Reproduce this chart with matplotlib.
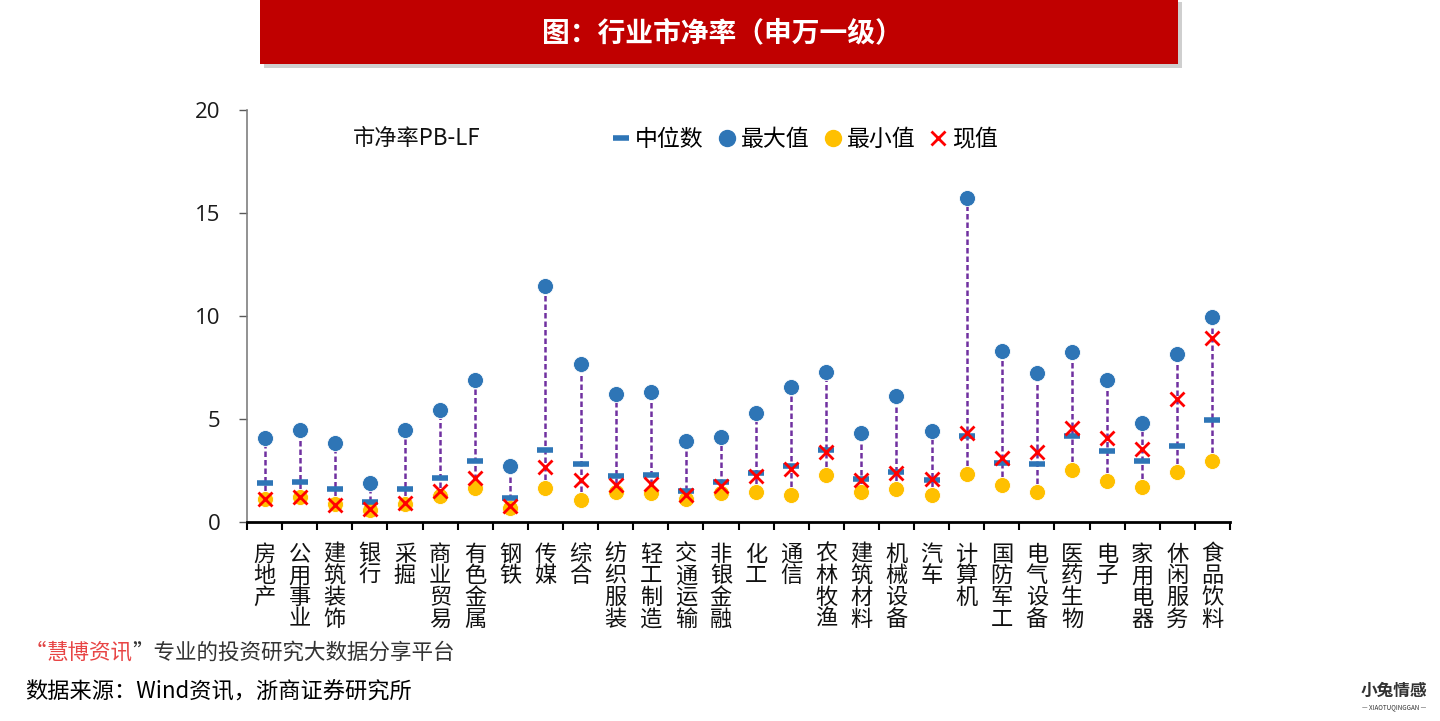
import matplotlib
matplotlib.use("Agg")
import matplotlib.pyplot as plt
from matplotlib.lines import Line2D
from matplotlib.patches import Rectangle
import numpy as np

plt.rcParams['font.family'] = ['Noto Sans CJK SC', 'DejaVu Sans']

categories = ["房地产", "公用事业", "建筑装饰", "银行", "采掘", "商业贸易", "有色金属",
              "钢铁", "传媒", "综合", "纺织服装", "轻工制造", "交通运输", "非银金融",
              "化工", "通信", "农林牧渔", "建筑材料", "机械设备", "汽车", "计算机",
              "国防军工", "电气设备", "医药生物", "电子", "家用电器", "休闲服务", "食品饮料"]
max_vals = [4.07, 4.45, 3.83, 1.91, 4.45, 5.44, 6.89, 2.73, 11.44, 7.69, 6.20, 6.30, 3.95, 4.11,
            5.27, 6.54, 7.28, 4.34, 6.13, 4.40, 15.71, 8.32, 7.22, 8.27, 6.89, 4.81, 8.16, 9.95]
median_vals = [1.88, 1.93, 1.59, 0.96, 1.59, 2.15, 2.96, 1.18, 3.48, 2.80, 2.22, 2.28, 1.52, 1.93,
               2.39, 2.73, 3.50, 2.10, 2.43, 2.05, 4.17, 2.85, 2.80, 4.17, 3.43, 2.96, 3.71, 4.93]
min_vals = [1.10, 1.23, 0.85, 0.60, 0.88, 1.25, 1.63, 0.68, 1.63, 1.07, 1.44, 1.39, 1.10, 1.39,
            1.46, 1.29, 2.28, 1.46, 1.59, 1.29, 2.33, 1.81, 1.46, 2.51, 1.99, 1.71, 2.44, 2.98]
current_vals = [1.12, 1.23, 0.84, 0.63, 0.91, 1.52, 2.15, 0.78, 2.67, 2.04, 1.80, 1.84, 1.31, 1.76,
                2.23, 2.56, 3.41, 2.04, 2.39, 2.09, 4.30, 3.09, 3.41, 4.58, 4.06, 3.53, 5.97, 8.92]
y_ticks = [0, 5, 10, 15, 20]
legend_labels = ["中位数", "最大值", "最小值", "现值"]

BLUE = "#2E75B6"
YELLOW = "#FFC000"
RED = "#FF0000"
PURPLE = "#7030A0"

fig = plt.figure(figsize=(14.4, 7.21), dpi=100)
ax = fig.add_axes([247 / 1440, 1 - 522 / 721, 983 / 1440, 412 / 721])

x = np.arange(len(categories))
ax.vlines(x, min_vals, max_vals, colors=PURPLE, linestyles=(0, (2.2, 1.2)), linewidth=1.8, zorder=1)
ax.plot(x, max_vals, 'o', color=BLUE, markersize=11.5, markeredgecolor='white', markeredgewidth=0.6, zorder=3)
ax.plot(x, min_vals, 'o', color=YELLOW, markersize=11.5, markeredgecolor='white', markeredgewidth=0.6, zorder=3)
ax.plot(x, median_vals, '_', color=BLUE, markersize=12, markeredgewidth=4, zorder=4)
ax.plot(x, current_vals, 'x', color=RED, markersize=10, markeredgewidth=2, zorder=5)

ax.set_xlim(-0.5, len(categories) - 0.5)
ax.set_ylim(0, 20)
ax.set_yticks(y_ticks)
ax.set_yticklabels([str(v) for v in y_ticks], fontsize=16, color='#1a1a1a', family=['Open Sans', 'DejaVu Sans'])
ax.tick_params(axis='y', length=6, width=1, color='#595959', pad=13)

ax.set_xticks(np.arange(len(categories) + 1) - 0.5)
ax.set_xticklabels([])
ax.tick_params(axis='x', length=6, width=1.5, color='black', direction='out')
for i, c in enumerate(categories):
    ax.text(i, -0.05, "\n".join(c), transform=ax.get_xaxis_transform(), ha='center', va='top',
            fontsize=16, linespacing=0.93, color='#111111')

for s in ['top', 'right']:
    ax.spines[s].set_visible(False)
ax.spines['left'].set_color('#7f7f7f')
ax.spines['left'].set_linewidth(1.2)
ax.spines['bottom'].set_color('black')
ax.spines['bottom'].set_linewidth(2)

# chart label and legend
ax.text(0.108, 0.93, "市净率PB-LF", transform=ax.transAxes, fontsize=16, ha='left', va='center', color='#111111')
handles = [
    Line2D([], [], marker='_', color=BLUE, linestyle='None', markersize=12, markeredgewidth=4),
    Line2D([], [], marker='o', color=BLUE, linestyle='None', markersize=11.5),
    Line2D([], [], marker='o', color=YELLOW, linestyle='None', markersize=11.5),
    Line2D([], [], marker='x', color=RED, linestyle='None', markersize=10, markeredgewidth=2),
]
leg = ax.legend(handles, legend_labels, ncol=4, frameon=False,
                loc='center left', bbox_to_anchor=(0.362, 0.928), fontsize=16.5,
                handlelength=0.8, handletextpad=0.2, columnspacing=0.62, borderaxespad=0)

# title banner
fig.patches.append(Rectangle((264 / 1440, 1 - 68 / 721), 918 / 1440, 66 / 721, transform=fig.transFigure,
                             facecolor='#b0b0b0', edgecolor='none', alpha=0.6, zorder=0))
fig.patches.append(Rectangle((260 / 1440, 1 - 64 / 721), 918 / 1440, 66 / 721, transform=fig.transFigure,
                             facecolor='#C00000', edgecolor='none', zorder=1))
fig.text(722 / 1440, 1 - 33 / 721, "图：行业市净率（申万一级）", ha='center', va='center',
         fontsize=20, fontweight='heavy', color='white')

# footer (pieces chained left to right)
renderer = fig.canvas.get_renderer()
pieces = [("“", '#E04040'), ("慧博资讯", '#E84545'), ("”专业的投资研究大数据分享平台", '#333333')]
xpos = 25
for txt, col in pieces:
    t = fig.text(xpos / 1440, 1 - 653 / 721, txt, ha='left', va='center', fontsize=15.5, color=col)
    bb = t.get_window_extent(renderer=renderer)
    xpos = bb.x1
fig.text(25 / 1440, 1 - 692 / 721, "数据来源：Wind资讯，浙商证券研究所", ha='left', va='center', fontsize=16, color='black')
fig.text(1394 / 1440, 1 - 691 / 721, "小兔情感", ha='center', va='center', fontsize=12, color='#333333', fontweight='bold')
fig.text(1394 / 1440, 1 - 707 / 721, "— XIAOTUQINGGAN —", ha='center', va='center', fontsize=4.5, color='#333333')

fig.savefig("out.png", dpi=100)
